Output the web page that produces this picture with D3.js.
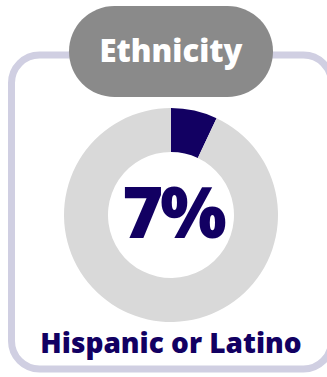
<!DOCTYPE html>
<html>
<head>
<meta charset="utf-8">
<script src="https://cdn.jsdelivr.net/npm/d3@7"></script>
<style>
  html, body { margin: 0; padding: 0; background: #fff; }
  svg { display: block; }
</style>
</head>
<body>
<svg id="chart" width="327" height="377"></svg>
<script>
const title = "Ethnicity";
const categories = ["Hispanic or Latino", "Not Hispanic or Latino"];
const values = [7, 93];
const colors = ["#120062", "#d9d9d9"];

const svg = d3.select('#chart');
const cx = 171, cy = 215;
const outerR = 107, innerR = 63;
const font = '"Open Sans", sans-serif';

// frame
svg.append('rect')
  .attr('x', 11.5).attr('y', 55)
  .attr('width', 320).attr('height', 314)
  .attr('rx', 28).attr('ry', 28)
  .style('fill', 'none')
  .style('stroke', '#d0cfe2')
  .style('stroke-width', 7);

// title pill
svg.append('rect')
  .attr('x', 69).attr('y', 6)
  .attr('width', 204).attr('height', 91)
  .attr('rx', 45.5).attr('ry', 45.5)
  .style('fill', '#8a8a8a');

svg.append('text')
  .attr('x', 171).attr('y', 62)
  .attr('text-anchor', 'middle')
  .style('font-family', font)
  .style('font-weight', '800')
  .style('font-size', '31px')
  .style('fill', '#fff')
  .text(title);

// donut
const pie = d3.pie().sort(null).value(d => d);
const arc = d3.arc().innerRadius(innerR).outerRadius(outerR);
const g = svg.append('g').attr('transform', `translate(${cx} ${cy})`);
g.selectAll('path')
  .data(pie(values))
  .enter().append('path')
  .attr('d', arc)
  .style('fill', (d, i) => colors[i]);

// big number
svg.append('text')
  .attr('x', 173).attr('y', 238)
  .attr('text-anchor', 'middle')
  .style('font-family', font)
  .style('font-weight', '800')
  .style('font-size', '70px')
  .style('letter-spacing', '-3px')
  .style('fill', colors[0])
  .text(d3.format('d')(values[0]) + '%');

// label
svg.append('text')
  .attr('x', 171).attr('y', 353)
  .attr('text-anchor', 'middle')
  .style('font-family', font)
  .style('font-weight', '800')
  .style('font-size', '28px')
  .style('fill', colors[0])
  .text(categories[0]);
</script>
</body>
</html>
